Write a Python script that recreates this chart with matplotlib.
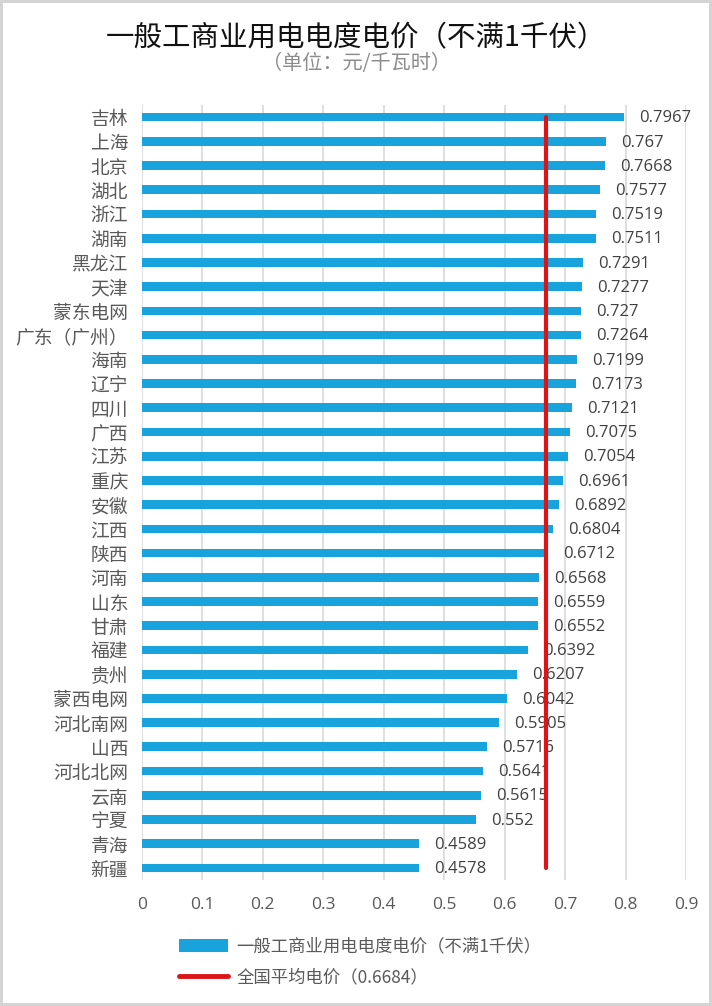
import matplotlib
matplotlib.use("Agg")
import matplotlib.pyplot as plt
from matplotlib.lines import Line2D
from matplotlib.patches import Patch

plt.rcParams['font.family'] = ['Noto Sans CJK SC', 'DejaVu Sans']

# 数据
regions = ["吉林", "上海", "北京", "湖北", "浙江", "湖南", "黑龙江", "天津", "蒙东电网",
           "广东（广州）", "海南", "辽宁", "四川", "广西", "江苏", "重庆", "安徽", "江西",
           "陕西", "河南", "山东", "甘肃", "福建", "贵州", "蒙西电网", "河北南网", "山西",
           "河北北网", "云南", "宁夏", "青海", "新疆"]
prices = [0.7967, 0.767, 0.7668, 0.7577, 0.7519, 0.7511, 0.7291, 0.7277, 0.727,
          0.7264, 0.7199, 0.7173, 0.7121, 0.7075, 0.7054, 0.6961, 0.6892, 0.6804,
          0.6712, 0.6568, 0.6559, 0.6552, 0.6392, 0.6207, 0.6042, 0.5905, 0.5716,
          0.5641, 0.5615, 0.552, 0.4589, 0.4578]
price_labels = ["0.7967", "0.767", "0.7668", "0.7577", "0.7519", "0.7511", "0.7291", "0.7277",
                "0.727", "0.7264", "0.7199", "0.7173", "0.7121", "0.7075", "0.7054", "0.6961",
                "0.6892", "0.6804", "0.6712", "0.6568", "0.6559", "0.6552", "0.6392", "0.6207",
                "0.6042", "0.5905", "0.5716", "0.5641", "0.5615", "0.552", "0.4589", "0.4578"]
national_avg = 0.6684
xticks = [0, 0.1, 0.2, 0.3, 0.4, 0.5, 0.6, 0.7, 0.8, 0.9]

bar_color = "#18a3dc"
red = "#dc1418"
text_gray = "#595959"

fig = plt.figure(figsize=(7.12, 10.06), dpi=100)
fig.patch.set_edgecolor("#d4d4d4")
fig.patch.set_linewidth(3)
ax = fig.add_axes([0.1994, 0.1252, 0.7641, 0.7704])

y = list(range(len(regions)))
ax.barh(y, prices, height=0.36, color=bar_color, zorder=2)
ax.set_ylim(len(regions) - 0.5, -0.5)
ax.set_xlim(0, 0.9)

# 数值标签
for yi, v, lab in zip(y, prices, price_labels):
    ax.text(v + 0.025, yi + 0.05, lab, va="center", ha="left", fontsize=12,
            color="#404040", family=["Open Sans", "DejaVu Sans"], zorder=3)

# 全国平均线
ax.plot([national_avg, national_avg], [0, len(regions) - 1], color=red, lw=3,
        solid_capstyle="round", zorder=4)

ax.set_yticks(y)
ax.set_yticklabels(regions, fontsize=13.5, color=text_gray)
ax.set_xticks(xticks)
ax.set_xticklabels([f"{t:g}" for t in xticks], fontsize=12.5, color=text_gray,
                   family=["Open Sans", "DejaVu Sans"])
ax.tick_params(length=0, axis="both")
ax.tick_params(axis="x", pad=12)
ax.tick_params(axis="y", pad=10)
ax.grid(axis="x", color="#d9d9d9", lw=1.2, zorder=0)
for s in ax.spines.values():
    s.set_visible(False)

fig.text(0.5, 0.962, "一般工商业用电电度电价（不满1千伏）", ha="center", va="center",
         fontsize=20.5, color="#111111")
fig.text(0.5, 0.937, "（单位：元/千瓦时）", ha="center", va="center",
         fontsize=14.5, color="#8c8c8c")

handles = [Patch(facecolor=bar_color, edgecolor="none"),
           Line2D([0], [0], color=red, lw=3.5, solid_capstyle="round")]
labels = ["一般工商业用电电度电价（不满1千伏）", "全国平均电价（0.6684）"]
fig.legend(handles, labels, loc="center left", bbox_to_anchor=(0.23, 0.044),
           frameon=False, fontsize=12.5, labelcolor=text_gray, handlelength=2.8,
           handleheight=0.8, labelspacing=0.75, handletextpad=0.5)

fig.savefig("out.png", dpi=100)
